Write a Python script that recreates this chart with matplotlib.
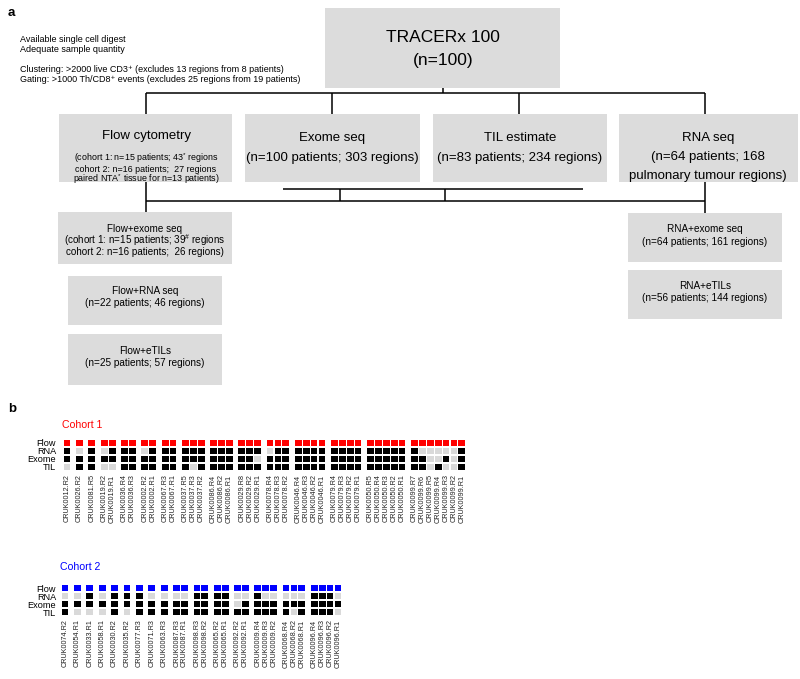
import matplotlib
matplotlib.use('Agg')
import matplotlib.pyplot as plt
from matplotlib.patches import Rectangle
import numpy as np

plt.rcParams['font.family'] = ['Liberation Sans', 'DejaVu Sans']
plt.rcParams['mathtext.fontset'] = 'custom'
plt.rcParams['mathtext.rm'] = 'Liberation Sans'
plt.rcParams['mathtext.it'] = 'Liberation Sans:italic'
plt.rcParams['mathtext.bf'] = 'Liberation Sans:bold'

# ---------------- data ----------------
assays = ['Flow', 'RNA', 'Exome', 'TIL']

c1_patients = ['CRUK0012', 'CRUK0026', 'CRUK0081', 'CRUK0019', 'CRUK0036', 'CRUK0002',
               'CRUK0067', 'CRUK0037', 'CRUK0086', 'CRUK0029', 'CRUK0078', 'CRUK0046',
               'CRUK0079', 'CRUK0050', 'CRUK0099']
c1_regions = [['R2'], ['R2'], ['R5'], ['R2', 'R1'], ['R4', 'R3'], ['R2', 'R1'], ['R3', 'R1'],
              ['R5', 'R3', 'R2'], ['R4', 'R2', 'R1'], ['R8', 'R2', 'R1'], ['R4', 'R3', 'R2'],
              ['R4', 'R3', 'R2', 'R1'], ['R4', 'R3', 'R2', 'R1'], ['R5', 'R4', 'R3', 'R2', 'R1'],
              ['R7', 'R6', 'R5', 'R4', 'R3', 'R2', 'R1']]
c1_rna = [[1], [0], [1], [0, 1], [1, 1], [0, 1], [1, 1], [1, 1, 1], [1, 1, 1], [1, 1, 1],
          [0, 1, 1], [1, 1, 1, 1], [1, 1, 1, 1], [1, 1, 1, 1, 1], [1, 0, 0, 0, 0, 0, 1]]
c1_exome = [[1], [1], [1], [1, 1], [1, 1], [1, 1], [1, 1], [1, 1, 1], [1, 1, 1], [1, 1, 0],
            [1, 1, 1], [1, 1, 1, 1], [1, 1, 1, 1], [1, 1, 1, 1, 1], [1, 1, 0, 0, 1, 0, 1]]
c1_til = [[0], [1], [1], [0, 0], [1, 1], [1, 1], [1, 1], [1, 0, 1], [1, 1, 1], [1, 1, 1],
          [1, 1, 1], [1, 1, 1, 1], [1, 1, 1, 1], [1, 1, 1, 1, 1], [1, 1, 0, 1, 0, 0, 1]]

c2_patients = ['CRUK0074', 'CRUK0054', 'CRUK0033', 'CRUK0058', 'CRUK0030', 'CRUK0035',
               'CRUK0077', 'CRUK0071', 'CRUK0063', 'CRUK0087', 'CRUK0098', 'CRUK0065',
               'CRUK0092', 'CRUK0009', 'CRUK0068', 'CRUK0096']
c2_regions = [['R2'], ['R1'], ['R1'], ['R1'], ['R2'], ['R2'], ['R3'], ['R3'], ['R3'],
              ['R3', 'R1'], ['R3', 'R2'], ['R2', 'R1'], ['R2', 'R1'], ['R4', 'R3', 'R2'],
              ['R4', 'R2', 'R1'], ['R4', 'R3', 'R2', 'R1']]
c2_rna = [[0], [0], [1], [0], [1], [1], [1], [0], [0], [0, 0], [1, 1], [1, 1], [0, 0],
          [1, 0, 0], [0, 0, 0], [1, 1, 1, 0]]
c2_exome = [[1], [1], [1], [1], [1], [1], [1], [1], [1], [1, 1], [1, 1], [1, 1], [0, 1],
            [1, 1, 1], [1, 1, 1], [1, 1, 1, 1]]
c2_til = [[1], [0], [0], [0], [1], [0], [1], [1], [1], [1, 1], [1, 1], [1, 1], [1, 1],
          [1, 1, 1], [1, 0, 1], [1, 1, 1, 0]]

# ---------------- figure ----------------
W, H = 800, 679
fig = plt.figure(figsize=(W / 100, H / 100), dpi=100)
fig.patch.set_facecolor('white')

ov = fig.add_axes([0, 0, 1, 1])
ov.set_xlim(0, W)
ov.set_ylim(H, 0)
ov.axis('off')

BOX = '#dcdcdc'
LINE_KW = dict(color='black', lw=1.1, solid_capstyle='butt')


def box(x0, y0, x1, y1):
    ov.add_patch(Rectangle((x0, y0), x1 - x0, y1 - y0, facecolor=BOX, edgecolor='none'))


def line(xs, ys):
    ov.plot(xs, ys, **LINE_KW)


ov.text(8, 13, 'a', fontsize=9.5, fontweight='bold', ha='left', va='center')
ov.text(8, 409, 'b', fontsize=9.5, fontweight='bold', ha='left', va='center')

notes = [(39.5, 'Available single cell digest'),
         (50, 'Adequate sample quantity'),
         (69.5, 'Clustering: >2000 live CD3\u207a (excludes 13 regions from 8 patients)'),
         (80, 'Gating: >1000 Th/CD8\u207a events (excludes 25 regions from 19 patients)')]
for y, t in notes:
    ov.text(20, y, t, fontsize=6.5, ha='left', va='center')

# top box
box(325, 8, 560, 88)
ov.text(443, 37, 'TRACERx 100', fontsize=12.5, ha='center', va='center')
ov.text(443, 60, '(n=100)', fontsize=12.5, ha='center', va='center')

# connectors
line([443, 443], [88, 93])
line([146, 705], [93, 93])
for x in (146, 332, 519, 705):
    line([x, x], [93, 114])

# second row boxes
box(59, 114, 232, 182)
ov.text(146, 136, 'Flow cytometry', fontsize=9.5, ha='center', va='center')
ov.text(146, 158.5, '(cohort 1: n=15 patients; 43$^{*}$ regions', fontsize=6.4, ha='center', va='center')
ov.text(146, 169, 'cohort 2: n=16 patients;  27 regions', fontsize=6.4, ha='center', va='center')
ov.text(146, 179.5, 'paired NTA$^{*}$ tissue for n=13 patients)', fontsize=6.4, ha='center', va='center')

box(245, 114, 420, 182)
ov.text(332, 138, 'Exome seq', fontsize=9.5, ha='center', va='center')
ov.text(332, 158, '(n=100 patients; 303 regions)', fontsize=9.5, ha='center', va='center')

box(433, 114, 607, 182)
ov.text(520, 138, 'TIL estimate', fontsize=9.5, ha='center', va='center')
ov.text(520, 158, '(n=83 patients; 234 regions)', fontsize=9.5, ha='center', va='center')

box(619, 114, 798, 182)
ov.text(708, 138, 'RNA seq', fontsize=9.5, ha='center', va='center')
ov.text(708, 157, '(n=64 patients; 168', fontsize=9.5, ha='center', va='center')
ov.text(708, 176, 'pulmonary tumour regions)', fontsize=9.5, ha='center', va='center')

# lower connectors
line([283, 583], [189, 189])
line([340, 340], [189, 201])
line([445, 445], [189, 201])
line([146, 705], [201, 201])
line([146, 146], [182, 212])
line([705, 705], [182, 213])

# lower boxes
box(58, 212, 232, 264)
ov.text(145, 229, 'Flow+exome seq', fontsize=7.1, ha='center', va='center')
ov.text(145, 240.5, '(cohort 1: n=15 patients; 39$^{\\#}$ regions', fontsize=7.1, ha='center', va='center')
ov.text(145, 252, 'cohort 2: n=16 patients;  26 regions)', fontsize=7.1, ha='center', va='center')

box(68, 276, 222, 325)
ov.text(145, 291, 'Flow+RNA seq', fontsize=7.2, ha='center', va='center')
ov.text(145, 303, '(n=22 patients; 46 regions)', fontsize=7.2, ha='center', va='center')

box(68, 334, 222, 385)
ov.text(145, 351, 'Flow+eTILs', fontsize=7.2, ha='center', va='center')
ov.text(145, 363, '(n=25 patients; 57 regions)', fontsize=7.2, ha='center', va='center')

box(628, 213, 782, 262)
ov.text(705, 229, 'RNA+exome seq', fontsize=7.2, ha='center', va='center')
ov.text(705, 242, '(n=64 patients; 161 regions)', fontsize=7.2, ha='center', va='center')

box(628, 270, 782, 319)
ov.text(705, 286, 'RNA+eTILs', fontsize=7.2, ha='center', va='center')
ov.text(705, 298, '(n=56 patients; 144 regions)', fontsize=7.2, ha='center', va='center')

# ---------------- cohort grids ----------------
STEP_X = 7.9    # px per column unit
STEP_Y = 8.0    # px per row unit
GAP = 0.57      # extra units between patients
CELL = 0.86
GREY = '#d9d9d9'


def grid(patients, regions, rna, exome, til, flow_color, first_x, top_y, title, title_y, lab_pad):
    xs, labels, rows = [], [], {'RNA': [], 'Exome': [], 'TIL': []}
    k = 0
    for g, (p, regs) in enumerate(zip(patients, regions)):
        for j, r in enumerate(regs):
            xs.append(k + g * GAP)
            labels.append(f'{p}.{r}')
            rows['RNA'].append(rna[g][j])
            rows['Exome'].append(exome[g][j])
            rows['TIL'].append(til[g][j])
            k += 1
    xs = np.array(xs)
    xmax = xs[-1]
    left_px = first_x - 0.5 * STEP_X
    width_px = (xmax + 1) * STEP_X
    height_px = 4 * STEP_Y
    ax = fig.add_axes([left_px / W, 1 - (top_y + height_px) / H, width_px / W, height_px / H])
    ax.set_xlim(-0.5, xmax + 0.5)
    ax.set_ylim(3.5, -0.5)
    ax.bar(xs, CELL, bottom=0 - CELL / 2, width=CELL, color=flow_color, linewidth=0)
    for i, name in enumerate(['RNA', 'Exome', 'TIL'], start=1):
        cols = ['black' if v else GREY for v in rows[name]]
        ax.bar(xs, CELL, bottom=i - CELL / 2, width=CELL, color=cols, linewidth=0)
    for s in ax.spines.values():
        s.set_visible(False)
    ax.set_xticks(xs, labels, rotation=90, fontsize=5.2, color='#222222')
    ax.set_yticks(range(4), assays, fontsize=6.6)
    ax.tick_params(axis='x', length=0, pad=2.5)
    ax.tick_params(axis='y', length=0, pad=lab_pad)
    ax.set_facecolor('none')
    ov.text(first_x - 5, title_y, title, color=flow_color, fontsize=7.6, ha='left', va='center')


grid(c1_patients, c1_regions, c1_rna, c1_exome, c1_til, '#ff0000', 67, 439, 'Cohort 1', 425, 5.0)
grid(c2_patients, c2_regions, c2_rna, c2_exome, c2_til, '#0000ff', 65, 584, 'Cohort 2', 567, 3.6)

fig.savefig('out.png', dpi=100, facecolor='white')
